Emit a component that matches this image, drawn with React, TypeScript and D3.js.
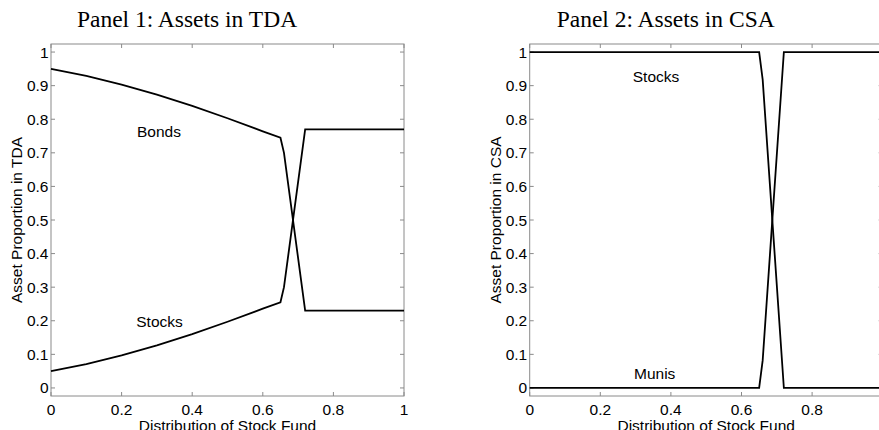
import React from "react";
import * as d3 from "d3";

const xGrid = [0, 0.1, 0.2, 0.3, 0.4, 0.5, 0.6, 0.65, 0.66, 0.72, 0.8, 0.9, 1.0];
const tdaBonds = [0.95, 0.929, 0.903, 0.873, 0.84, 0.803, 0.764, 0.745, 0.70, 0.23, 0.23, 0.23, 0.23];
const tdaStocks = [0.05, 0.071, 0.097, 0.127, 0.16, 0.197, 0.236, 0.255, 0.30, 0.77, 0.77, 0.77, 0.77];
const csaStocks = [1, 1, 1, 1, 1, 1, 1, 1, 0.918, 0, 0, 0, 0];
const csaMunis = [0, 0, 0, 0, 0, 0, 0, 0, 0.082, 1, 1, 1, 1];

const yTicks = [0, 0.1, 0.2, 0.3, 0.4, 0.5, 0.6, 0.7, 0.8, 0.9, 1];
const xTicks = [0, 0.2, 0.4, 0.6, 0.8, 1];
const yTickLabels = ["0", "0.1", "0.2", "0.3", "0.4", "0.5", "0.6", "0.7", "0.8", "0.9", "1"];
const xTickLabels = ["0", "0.2", "0.4", "0.6", "0.8", "1"];

const W = 879;
const H = 430;
const PW = 353;
const TOP = 44;
const BOTTOM = 396;
const SANS = "'Liberation Sans', Arial, Helvetica, sans-serif";
const SERIF = "'Liberation Serif', 'Times New Roman', serif";

type PanelProps = {
  left: number;
  title: string;
  ylabel: string;
  series: number[][];
  labels: { text: string; x: number; y: number }[];
};

function Panel({ left, title, ylabel, series, labels }: PanelProps) {
  const x = d3.scaleLinear().domain([0, 1]).range([left, left + PW]);
  const y = d3.scaleLinear().domain([-0.024, 1.024]).range([BOTTOM, TOP]);
  const line = d3
    .line<number>()
    .x((_, i) => x(xGrid[i]))
    .y((d) => y(d));
  const axisColor = "#8a8a8a";
  const tl = 4;
  return (
    <g>
      <text x={left + 136} y={27} fontFamily={SERIF} fontSize={23.5} textAnchor="middle" fill="#000">
        {title}
      </text>
      <rect x={left} y={TOP} width={PW} height={BOTTOM - TOP} fill="none" stroke={axisColor} strokeWidth={1} />
      {xTicks.map((t, i) => (
        <g key={"xt" + i}>
          <line x1={x(t)} x2={x(t)} y1={BOTTOM} y2={BOTTOM - tl} stroke={axisColor} />
          <line x1={x(t)} x2={x(t)} y1={TOP} y2={TOP + tl} stroke={axisColor} />
          {x(t) + 4 < W ? (
            <text x={x(t)} y={415} fontFamily={SANS} fontSize={15.5} textAnchor="middle" fill="#000">
              {xTickLabels[i]}
            </text>
          ) : null}
        </g>
      ))}
      {yTicks.map((t, i) => (
        <g key={"yt" + i}>
          <line x1={left} x2={left + tl} y1={y(t)} y2={y(t)} stroke={axisColor} />
          <line x1={left + PW} x2={left + PW - tl} y1={y(t)} y2={y(t)} stroke={axisColor} />
          <text x={left - 2.5} y={y(t) + 5.5} fontFamily={SANS} fontSize={15.5} textAnchor="end" fill="#000">
            {yTickLabels[i]}
          </text>
        </g>
      ))}
      {series.map((s, i) => (
        <path key={"s" + i} d={line(s) || ""} fill="none" stroke="#000" strokeWidth={1.8} strokeLinejoin="miter" />
      ))}
      {labels.map((l, i) => (
        <text key={"l" + i} x={l.x} y={l.y} fontFamily={SANS} fontSize={15.5} textAnchor="middle" fill="#000">
          {l.text}
        </text>
      ))}
      <text x={left + PW / 2} y={431} fontFamily={SANS} fontSize={15.5} textAnchor="middle" fill="#000">
        Distribution of Stock Fund
      </text>
      <text
        transform={`translate(${left - 29},${(TOP + BOTTOM) / 2}) rotate(-90)`}
        fontFamily={SANS}
        fontSize={15.5}
        textAnchor="middle"
        fill="#000"
      >
        {ylabel}
      </text>
    </g>
  );
}

export default function App() {
  return (
    <svg
      width={W}
      height={H}
      viewBox={`0 0 ${W} ${H}`}
      style={{ position: "absolute", left: 0, top: 0, background: "#fff" }}
    >
      <rect width={W} height={H} fill="#fff" />
      <Panel
        left={51}
        title="Panel 1: Assets in TDA"
        ylabel="Asset Proportion in TDA"
        series={[tdaBonds, tdaStocks]}
        labels={[
          { text: "Bonds", x: 159, y: 136.5 },
          { text: "Stocks", x: 159.5, y: 327 },
        ]}
      />
      <Panel
        left={529.7}
        title="Panel 2: Assets in CSA"
        ylabel="Asset Proportion in CSA"
        series={[csaStocks, csaMunis]}
        labels={[
          { text: "Stocks", x: 656, y: 82 },
          { text: "Munis", x: 654.7, y: 378.5 },
        ]}
      />
    </svg>
  );
}
